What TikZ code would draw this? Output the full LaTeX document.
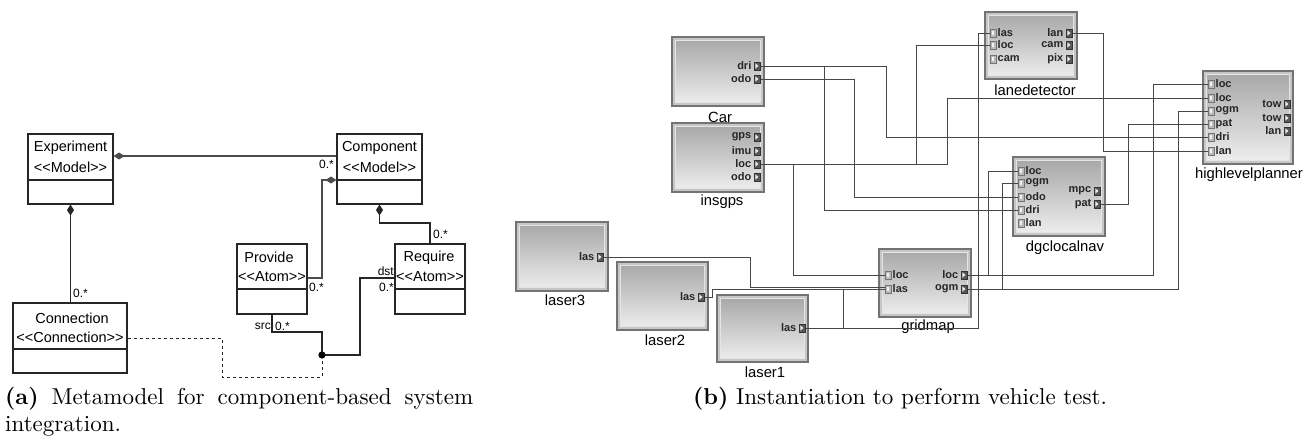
\documentclass[tikz,border=0pt]{standalone}
\usepackage{fontspec}
\newfontfamily\umlsf{Liberation Sans}
\newfontfamily\capfont{lmroman10-regular}[Extension=.otf, BoldFont=lmroman10-bold]
\usetikzlibrary{arrows.meta,calc}
\newcommand\lgl{<\kern0pt<}
\newcommand\rgr{>\kern0pt>}
\newcommand\myoutport[4]{\node[oport] (#1) at (#2,#3) {};
  \node[plabel,anchor=east] (#1-l) at ([xshift=-2pt]#1.west) {#4};}
\newcommand\myinport[4]{\node[iport] (#1) at (#2,#3) {};
  \node[plabel,anchor=west] (#1-l) at ([xshift=1pt]#1.east) {#4};}
\tikzset{
  umlbox/.style={draw=black!85, line width=1.1pt, inner sep=0pt},
  umltxt/.style={font=\umlsf\fontsize{14.5}{17}\selectfont, inner sep=0pt},
  mult/.style={font=\umlsf\fontsize{12}{14}\selectfont, inner sep=0pt},
  assoc/.style={line width=1.1pt, draw=black!85},
  compos/.style={assoc, {Diamond[length=11pt,width=7pt]}-},
  dotline/.style={draw=black!70, line width=1.2pt},
  compbox/.style={draw=black!55, line width=1.4pt, fill=gray!45, inner sep=0pt,
    path picture={
      \shade[top color=gray!70, bottom color=gray!12]
        ([shift={(3.5pt,-3.5pt)}]path picture bounding box.north west) rectangle
        ([shift={(-3.5pt,3.5pt)}]path picture bounding box.south east);
      \draw[white!80!gray, line width=1pt]
        ([shift={(3.5pt,-3.5pt)}]path picture bounding box.north west) rectangle
        ([shift={(-3.5pt,3.5pt)}]path picture bounding box.south east);}},
  clabel/.style={font=\umlsf\fontsize{14.8}{17}\selectfont, inner sep=0pt},
  plabel/.style={font=\umlsf\bfseries\fontsize{11}{13}\selectfont, inner sep=0pt, text=black!85},
  oport/.style={draw=black!80, fill=black!65, minimum width=6.5pt, minimum height=8.5pt,
    inner sep=0pt, line width=0.5pt,
    path picture={\fill[white!85!gray]
      ([shift={(-1.6pt,-2.6pt)}]path picture bounding box.center) --
      ([shift={(-1.6pt,2.6pt)}]path picture bounding box.center) --
      ([shift={(1.4pt,0pt)}]path picture bounding box.center) -- cycle;}},
  iport/.style={draw=black!55, fill=gray!55, minimum width=6.5pt, minimum height=8.5pt,
    inner sep=0pt, line width=0.5pt,
    path picture={\fill[white!90!gray]
      ([shift={(-1.4pt,-2.4pt)}]path picture bounding box.center) rectangle
      ([shift={(0.6pt,2.4pt)}]path picture bounding box.center);}},
  wire/.style={draw=black!72, line width=1pt},
  capt/.style={inner sep=0pt, font=\capfont\fontsize{23}{27.5}\selectfont}
}
\begin{document}
\begin{tikzpicture}[x=1pt,y=-1pt]
\useasboundingbox[fill=white] (0,0) rectangle (1314,440);

% ---------------- (a) metamodel ----------------
\node[umlbox, minimum width=85pt, minimum height=70pt] (exp) at (70.5,169) {};
\node[umlbox, minimum width=85pt, minimum height=70pt] (comp) at (379.5,169) {};
\node[umlbox, minimum width=70pt, minimum height=70pt] (prov) at (272,279) {};
\node[umlbox, minimum width=70pt, minimum height=70pt] (req) at (430,279) {};
\node[umlbox, minimum width=114pt, minimum height=70pt] (conn) at (70,338) {};
\draw[assoc] (exp.west |- 0,180) -- (exp.east |- 0,180);
\draw[assoc] (comp.west |- 0,180) -- (comp.east |- 0,180);
\draw[assoc] (prov.west |- 0,289) -- (prov.east |- 0,289);
\draw[assoc] (req.west |- 0,289) -- (req.east |- 0,289);
\draw[assoc] (conn.west |- 0,349) -- (conn.east |- 0,349);

\node[umltxt] (exp-t1) at (70.5,148) {Experiment};
\node[umltxt] (exp-t2) at (70.5,167) {\lgl Model\rgr};
\node[umltxt] (comp-t1) at (379.5,148) {Component};
\node[umltxt] (comp-t2) at (379.5,167) {\lgl Model\rgr};
\node[umltxt] (prov-t1) at (269,257) {Provide};
\node[umltxt] (prov-t2) at (272,277) {\lgl Atom\rgr};
\node[umltxt] (req-t1) at (429,258) {Require};
\node[umltxt] (req-t2) at (430,277) {\lgl Atom\rgr};
\node[umltxt] (conn-t1) at (72,318) {Connection};
\node[umltxt] (conn-t2) at (70,337) {\lgl Connection\rgr};

\coordinate (c1) at (322,278);
\coordinate (c2) at (430,223);
\coordinate (c3) at (322,332);
\coordinate (c4) at (360,355);
\coordinate (c5) at (222,377);
\coordinate (jn) at (322,355);

\draw[compos, dotline] ([yshift=13pt]exp.east) -- ([yshift=13pt]comp.west);
\draw[compos] (exp.south) -- (exp.south |- conn.north);
\draw[compos, dotline] ([yshift=-11pt]comp.west) -| (c1) -- (c1 -| prov.east);
\draw[compos] (comp.south) |- (c2) -- (req.north);
\draw[assoc] (prov.south) |- (c3) -- (jn);
\draw[assoc] ([yshift=1pt]req.west) -| (c4) -- (jn);
\draw[assoc, dashed, line width=0.9pt] (jn) |- (c5) |- (conn.east);
\fill[black] (jn) circle (3.6pt);

\node[mult, anchor=west] (m1) at (319,164) {0.*};
\node[mult, anchor=west] (m2) at (73,293) {0.*};
\node[mult, anchor=west] (m3) at (309,287) {0.*};
\node[mult, anchor=west] (m4) at (433,234) {0.*};
\node[mult, anchor=east] (m5) at (271,326) {src};
\node[mult, anchor=west] (m6) at (275,326) {0.*};
\node[mult, anchor=east] (m7) at (394,271.5) {dst};
\node[mult, anchor=east] (m8) at (394,287) {0.*};

\node[capt, anchor=base west] (capa) at (5,404)
  {\parbox[t]{468pt}{\hyphenpenalty=10000\textbf{(a)} Metamodel for component-based system\linebreak integration.}};

% ---------------- (b) instantiation ----------------
\node[compbox, minimum width=92pt, minimum height=69pt] (car) at (718,71.5) {};
\node[compbox, minimum width=92pt, minimum height=69pt] (ins) at (718,157.5) {};
\node[compbox, minimum width=92pt, minimum height=67pt] (lan) at (1031,45.5) {};
\node[compbox, minimum width=90pt, minimum height=93pt] (hlp) at (1248,117.5) {};
\node[compbox, minimum width=92pt, minimum height=79pt] (dgc) at (1059,196.5) {};
\node[compbox, minimum width=92pt, minimum height=68pt] (grid) at (925,283) {};
\node[compbox, minimum width=92pt, minimum height=69pt] (l3) at (562,256.5) {};
\node[compbox, minimum width=91pt, minimum height=68pt] (l2) at (662.5,296) {};
\node[compbox, minimum width=91pt, minimum height=67pt] (l1) at (762.5,328.5) {};

\node[clabel] (car-n) at (720,117) {Car};
\node[clabel] (ins-n) at (722,202) {insgps};
\node[clabel] (lan-n) at (1035,90) {lanedetector};
\node[clabel] (hlp-n) at (1249,175) {highlevelplanner};
\node[clabel] (dgc-n) at (1065,248) {dgclocalnav};
\node[clabel] (grid-n) at (928,327) {gridmap};
\node[clabel] (l3-n) at (565,300) {laser3};
\node[clabel] (l2-n) at (665,340) {laser2};
\node[clabel] (l1-n) at (765,372) {laser1};

\myoutport{car-dri}{757}{66}{dri}
\myoutport{car-odo}{757}{79}{odo}
\myoutport{ins-gps}{757}{137}{gps}
\myoutport{ins-imu}{757}{151}{imu}
\myoutport{ins-loc}{757}{164}{loc}
\myoutport{ins-odo}{757}{177}{odo}
\myinport{lan-las}{993}{33}{las}
\myinport{lan-loc}{993}{45}{loc}
\myinport{lan-cam}{993}{59}{cam}
\myoutport{lan-lan}{1069}{33}{lan}
\myoutport{lan-camo}{1069}{45}{cam}
\myoutport{lan-pix}{1069}{59}{pix}
\myinport{hlp-loca}{1211}{84}{loc}
\myinport{hlp-locb}{1211}{98}{loc}
\myinport{hlp-ogm}{1211}{111}{ogm}
\myinport{hlp-pat}{1211}{124}{pat}
\myinport{hlp-dri}{1211}{137}{dri}
\myinport{hlp-lan}{1211}{151}{lan}
\myoutport{hlp-towa}{1287}{104}{tow}
\myoutport{hlp-towb}{1287}{118}{tow}
\myoutport{hlp-lano}{1287}{131}{lan}
\myinport{dgc-loc}{1021}{171}{loc}
\myinport{dgc-ogm}{1021}{183}{ogm}
\myinport{dgc-odo}{1021}{197}{odo}
\myinport{dgc-dri}{1021}{210}{dri}
\myinport{dgc-lan}{1021}{223}{lan}
\myoutport{dgc-mpc}{1097}{191}{mpc}
\myoutport{dgc-pat}{1097}{204}{pat}
\myinport{grid-loc}{888}{275}{loc}
\myinport{grid-las}{888}{289}{las}
\myoutport{grid-loco}{964}{275}{loc}
\myoutport{grid-ogm}{964}{289}{ogm}
\myoutport{l3-las}{600}{257}{las}
\myoutport{l2-las}{701}{297}{las}
\myoutport{l1-las}{802}{328}{las}

\draw[wire] (car-dri.east) -| (886,137) -- (hlp-dri.west);
\draw[wire] (car-dri.east) -| (824,210) -- (dgc-dri.west);
\draw[wire] (car-odo.east) -| (854,197) -- (dgc-odo.west);
\draw[wire] (ins-loc.east) -| (916,45) -- (lan-loc.west);
\draw[wire] (ins-loc.east) -| (947,98) -- (hlp-locb.west);
\draw[wire] (ins-loc.east) -| (793,275) -- (grid-loc.west);
\draw[wire] (l1-las.east) -| (978,33) -- (lan-las.west);
\draw[wire] (l1-las.east) -| (843,289) -- (grid-las.west);
\draw[wire] (l2-las.east) -| (712,289) -- (grid-las.west);
\draw[wire] (l3-las.east) -| (750,287) -- ([yshift=2pt]grid-las.west);
\draw[wire] (grid-loco.east) -| (988,171) -- (dgc-loc.west);
\draw[wire] (grid-loco.east) -| (1153,84) -- (hlp-loca.west);
\draw[wire] (grid-ogm.east) -| (1002,183) -- (dgc-ogm.west);
\draw[wire] (grid-ogm.east) -| (1178,111) -- (hlp-ogm.west);
\draw[wire] (dgc-pat.east) -| (1128,124) -- (hlp-pat.west);
\draw[wire] (lan-lan.east) -| (1103,151) -- (hlp-lan.west);

\node[capt, anchor=base west] (capb) at (693,404)
  {\textbf{(b)} Instantiation to perform vehicle test.};
\end{tikzpicture}
\end{document}
